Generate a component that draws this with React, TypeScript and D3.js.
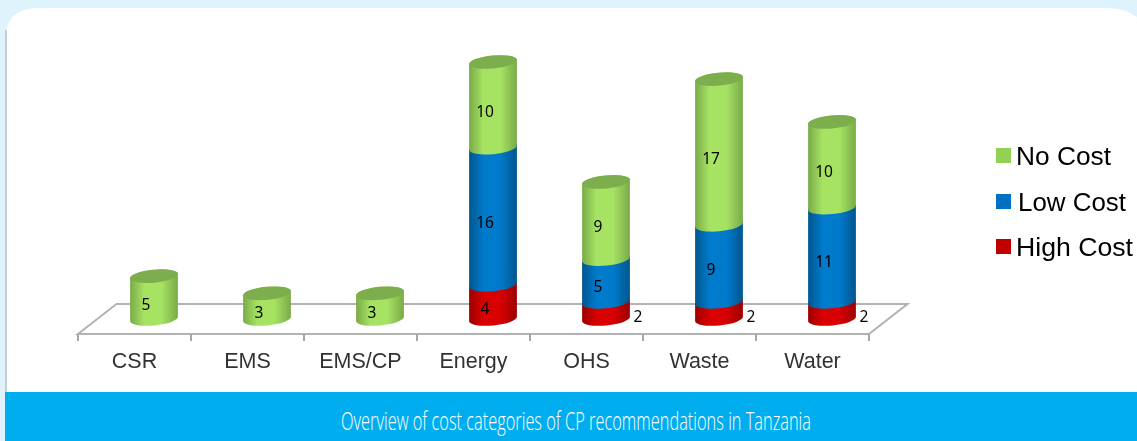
import React from "react";
import * as d3 from "d3";

const categories = ["CSR", "EMS", "EMS/CP", "Energy", "OHS", "Waste", "Water"];
const noCost = [5, 3, 3, 10, 9, 17, 10];
const lowCost = [0, 0, 0, 16, 5, 9, 11];
const highCost = [0, 0, 0, 4, 2, 2, 2];
const legendLabels = ["No Cost", "Low Cost", "High Cost"];
const caption = "Overview of cost categories of CP recommendations in Tanzania";

const W = 1137;
const H = 441;
const TILT = -5.5;
const RX = 24;
const RY = 6.5;
const DEPTH_X = 38.5;

const colors = {
  high: { edge: "#9c0004", mid: "#d80000", top: "#a80000", flat: "#c00000" },
  low: { edge: "#00568f", mid: "#007acb", top: "#005c99", flat: "#0070c0" },
  no: { edge: "#7aaa48", mid: "#a6e363", top: "#7dae4d", flat: "#92d050" },
};
const seriesKeys = ["high", "low", "no"] as const;
const legendKeys = ["no", "low", "high"] as const;
const legendTextX = [1016, 1018, 1016];
const legendTextLen = [95, 108, 117];
const legendBase = [165, 211, 256];
const legendBoxY = [148, 194, 239];

const rows = categories.map((c, i) => ({
  c,
  high: highCost[i],
  low: lowCost[i],
  no: noCost[i],
}));
const stacked = d3.stack<any>().keys(seriesKeys as any)(rows);

const x = d3.scaleBand<string>().domain(categories).range([78, 869]).padding(0);
const y = d3.scaleLinear().domain([0, 30]).range([319, 62]);

const rad = (TILT * Math.PI) / 180;
const dx = RX * Math.cos(rad);
const dy = RX * Math.sin(rad);

function bodyPath(cx: number, yb: number, yt: number) {
  const arc = `A${RX} ${RY} ${TILT} 0 0`;
  return `M${cx - dx} ${yt - dy}L${cx - dx} ${yb - dy}${arc} ${cx + dx} ${yb + dy}L${cx + dx} ${yt + dy}${arc} ${cx - dx} ${yt - dy}Z`;
}

export default function App() {
  const FLOOR_FRONT = 334;
  const FLOOR_BACK = 304;
  const [x0, x1] = x.range();
  const barCenter = (c: string) => (x(c) as number) + x.bandwidth() / 2 + 19.5;

  return (
    <svg
      width={W}
      height={H}
      viewBox={`0 0 ${W} ${H}`}
      style={{ position: "absolute", left: 0, top: 0, display: "block" }}
    >
      <defs>
        {seriesKeys.map((k) => (
          <linearGradient id={`grad-${k}`} key={k} x1="0" x2="1" y1="0" y2="0">
            <stop offset="0" stopColor={colors[k].edge} />
            <stop offset="0.3" stopColor={colors[k].mid} />
            <stop offset="0.65" stopColor={colors[k].mid} />
            <stop offset="1" stopColor={colors[k].edge} />
          </linearGradient>
        ))}
        {/* the reference is a soft, upscaled bitmap */}
        <filter id="soft" x="-2%" y="-2%" width="104%" height="104%">
          <feGaussianBlur stdDeviation={0.45} />
        </filter>
      </defs>

      <rect width={W} height={H} fill="#dff3fd" />
      <path d={`M6 392V38Q6 8 38 8H1105Q1125 8 1137 17V392Z`} fill="#fff" />
      <line x1={6} x2={6} y1={30} y2={392} stroke="#b4c2ca" strokeWidth={1.5} />

      <g filter="url(#soft)">
        {/* floor */}
        <path
          d={`M${x0} ${FLOOR_FRONT}L${x0 + DEPTH_X} ${FLOOR_BACK}H${x1 + DEPTH_X}L${x1} ${FLOOR_FRONT}Z`}
          fill="none"
          stroke="#b3b3b3"
          strokeWidth={2}
        />
        {d3.range(categories.length + 1).map((i) => {
          const tx = x0 + i * x.bandwidth();
          return (
            <line
              key={i}
              x1={tx}
              x2={tx}
              y1={FLOOR_FRONT}
              y2={FLOOR_FRONT + 7}
              stroke="#a6a6a6"
              strokeWidth={2}
            />
          );
        })}
        {categories.map((c) => (
          <text
            key={c}
            x={(x(c) as number) + x.bandwidth() / 2}
            y={368}
            textAnchor="middle"
            fontFamily="Liberation Sans"
            fontSize={21.5}
            fill="#333"
          >
            {c}
          </text>
        ))}

        {/* cylinders */}
        {categories.map((c, i) => {
          const cx = barCenter(c);
          const segs = stacked
            .map((s) => ({ key: s.key as (typeof seriesKeys)[number], d: s[i] }))
            .filter((s) => s.d[1] > s.d[0]);
          const top = segs[segs.length - 1];
          return (
            <g key={c}>
              {segs.map((s) => (
                <path
                  key={s.key}
                  d={bodyPath(cx, y(s.d[0]), y(s.d[1]))}
                  fill={`url(#grad-${s.key})`}
                />
              ))}
              <ellipse
                cx={cx}
                cy={y(top.d[1])}
                rx={RX}
                ry={RY}
                transform={`rotate(${TILT} ${cx} ${y(top.d[1])})`}
                fill={colors[top.key].top}
              />
            </g>
          );
        })}

        {/* value labels */}
        {categories.map((c, i) =>
          stacked.map((s) => {
            const v = s[i][1] - s[i][0];
            if (!v) return null;
            const outside = v === 2;
            return (
              <text
                key={`${c}-${s.key}`}
                x={barCenter(c) + (outside ? 32 : -8)}
                y={y((s[i][0] + s[i][1]) / 2) + 12}
                textAnchor="middle"
                fontFamily="Noto Sans"
                fontSize={15.5}
                fill="#000"
              >
                {v}
              </text>
            );
          }),
        )}

        {/* legend */}
        {legendLabels.map((t, i) => (
          <g key={t}>
            <rect
              x={996}
              y={legendBoxY[i]}
              width={15}
              height={15}
              fill={colors[legendKeys[i]].flat}
            />
            <text
              x={legendTextX[i]}
              y={legendBase[i]}
              fontFamily="Liberation Sans"
              fontSize={25}
              textLength={legendTextLen[i]}
              lengthAdjust="spacingAndGlyphs"
              fill="#000"
            >
              {t}
            </text>
          </g>
        ))}
      </g>

      {/* caption band */}
      <rect x={5} y={392} width={W - 5} height={H - 392} fill="#00aeef" />
      <text
        x={341}
        y={430}
        fontFamily="Open Sans"
        fontSize={26}
        fontWeight={300}
        textLength={470}
        lengthAdjust="spacingAndGlyphs"
        fill="#fff"
      >
        {caption}
      </text>
    </svg>
  );
}
